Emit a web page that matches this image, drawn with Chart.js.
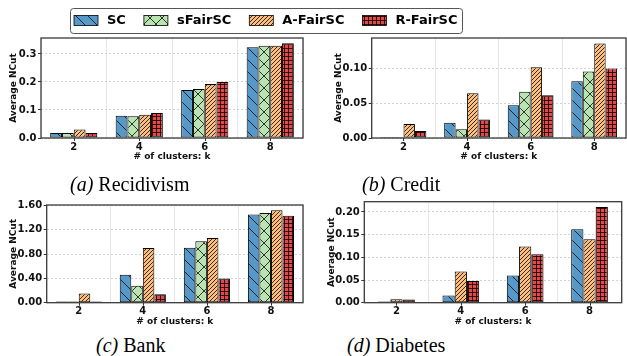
<!DOCTYPE html>
<html>
<head>
<meta charset="utf-8">
<script src="https://cdn.jsdelivr.net/npm/chart.js@4.4.1/dist/chart.umd.min.js"></script>
<style>
  html, body { margin:0; padding:0; background:#fff; }
  #wrap { position:relative; width:627px; height:356px; overflow:hidden; background:#fff; }
  canvas { position:absolute; }
  .cap { position:absolute; font-family:"Liberation Serif","Times New Roman",serif; font-size:20px; line-height:20px; color:#000; white-space:nowrap; }
  .cap i { font-style:italic; }
</style>
</head>
<body>
<div id="wrap">
  <canvas id="cLegend" width="627" height="40" style="left:0px;top:0px;width:627px;height:40px"></canvas>
  <canvas id="cA" width="310" height="140" style="left:0px;top:28px;width:310px;height:140px"></canvas>
  <canvas id="cB" width="307" height="140" style="left:320px;top:28px;width:307px;height:140px"></canvas>
  <canvas id="cC" width="310" height="138" style="left:0px;top:195px;width:310px;height:138px"></canvas>
  <canvas id="cD" width="307" height="141" style="left:320px;top:192px;width:307px;height:141px"></canvas>
  <div class="cap" style="left:70px;top:174px"><i>(a)</i> Recidivism</div>
  <div class="cap" style="left:362px;top:174px"><i>(b)</i> Credit</div>
  <div class="cap" style="left:96px;top:335px"><i>(c)</i> Bank</div>
  <div class="cap" style="left:347px;top:335px"><i>(d)</i> Diabetes</div>
</div>
<script>
// ---------------- DATA ----------------
const categories = ['2', '4', '6', '8'];
const seriesNames = ['SC', 'sFairSC', 'A-FairSC', 'R-FairSC'];

// (a) Recidivism
const recidSC     = [0.018, 0.079, 0.171, 0.324];
const recidSFair  = [0.018, 0.078, 0.175, 0.329];
const recidAFair  = [0.030, 0.083, 0.193, 0.329];
const recidRFair  = [0.018, 0.089, 0.200, 0.338];
const recidTicks  = ['0.0', '0.1', '0.2', '0.3'];

// (b) Credit
const creditSC    = [0.0015, 0.0218, 0.047, 0.081];
const creditSFair = [0.0015, 0.0124, 0.066, 0.095];
const creditAFair = [0.020, 0.064, 0.101, 0.135];
const creditRFair = [0.010, 0.0265, 0.061, 0.0995];
const creditTicks = ['0.00', '0.05', '0.10'];

// (c) Bank
const bankSC      = [0.020, 0.46, 0.905, 1.45];
const bankSFair   = [0.020, 0.28, 1.010, 1.475];
const bankAFair   = [0.150, 0.90, 1.065, 1.52];
const bankRFair   = [0.020, 0.14, 0.400, 1.43];
const bankTicks   = ['0.00', '0.40', '0.80', '1.20', '1.60'];

// (d) Diabetes (no sFairSC)
const diabSC      = [0.0025, 0.016, 0.060, 0.162];
const diabAFair   = [0.0075, 0.069, 0.124, 0.140];
const diabRFair   = [0.007, 0.048, 0.107, 0.211];
const diabTicks   = ['0.00', '0.05', '0.10', '0.15', '0.20'];

// ---------------- STYLE ----------------
const seriesColors = ['#5699c8', '#b9e3b1', '#fdbd7e', '#e24a4a'];
const hatchKinds   = ['back', 'cross', 'fwd3', 'plus3'];
const FONT = 'DejaVu Sans';

function makeTile(color, kind) {
  const S = 12;
  const c = document.createElement('canvas');
  c.width = S; c.height = S;
  const g = c.getContext('2d');
  g.fillStyle = color; g.fillRect(0, 0, S, S);
  g.strokeStyle = 'rgba(0,0,0,0.85)';
  g.lineWidth = 0.9;
  g.beginPath();
  if (kind === 'back' || kind === 'cross') {
    for (let k = -1; k <= 1; k++) { g.moveTo(k * S, 0); g.lineTo(k * S + S, S); }
  }
  if (kind === 'cross') {
    for (let k = -1; k <= 1; k++) { g.moveTo(k * S, S); g.lineTo(k * S + S, 0); }
  }
  if (kind === 'fwd3') {
    const s = S / 3;
    for (let k = -4; k <= 4; k++) { g.moveTo(k * s, S); g.lineTo(k * s + S, 0); }
  }
  if (kind === 'plus3') {
    const s = S / 3;
    for (let k = 0; k < 3; k++) {
      g.moveTo(k * s + 0.5, 0); g.lineTo(k * s + 0.5, S);
      g.moveTo(0, k * s + 0.5); g.lineTo(S, k * s + 0.5);
    }
  }
  g.stroke();
  return c;
}
const tiles = seriesColors.map((c, i) => makeTile(c, hatchKinds[i]));
function patternsFor(canvas) {
  const ctx = canvas.getContext('2d');
  return tiles.map(t => ctx.createPattern(t, 'repeat'));
}

const framePlugin = {
  id: 'frame',
  afterDatasetsDraw(chart) {
    const {ctx, chartArea: a, scales} = chart;
    ctx.save();
    ctx.strokeStyle = '#333'; ctx.lineWidth = 1;
    const xs = scales.x;
    for (let i = 0; i < xs.ticks.length; i++) {
      const px = Math.round(xs.getPixelForTick(i)) + 0.5;
      ctx.beginPath(); ctx.moveTo(px, a.bottom); ctx.lineTo(px, a.bottom + 3); ctx.stroke();
    }
    ctx.strokeStyle = '#3a3a3a'; ctx.lineWidth = 1.3;
    ctx.strokeRect(a.left, a.top, a.right - a.left, a.bottom - a.top);
    ctx.restore();
  }
};

function buildChart(id, seriesIdx, seriesData, yTickLabels, yMax, geo) {
  const canvas = document.getElementById(id);
  const pats = patternsFor(canvas);
  const tickVals = yTickLabels.map(parseFloat);
  const datasets = seriesIdx.map((si, k) => ({
    label: seriesNames[si],
    data: seriesData[k],
    backgroundColor: pats[si],
    borderColor: '#000',
    borderWidth: 1,
    borderSkipped: false,
    categoryPercentage: geo.catPct,
    barPercentage: 1.0
  }));
  return new Chart(canvas, {
    type: 'bar',
    data: { labels: categories, datasets },
    options: {
      responsive: false, animation: false, events: [],
      layout: { padding: { top: geo.padTop, right: geo.padRight, left: 0, bottom: 0 } },
      plugins: { legend: { display: false }, tooltip: { enabled: false } },
      scales: {
        x: {
          offset: true,
          grid: { offset: true, color: '#e6e6e6', lineWidth: 1, drawTicks: false },
          border: { display: false },
          ticks: { padding: 3, color: '#111', font: { family: FONT, size: 10, weight: 'bold' } },
          title: { display: true, text: '# of clusters: k', color: '#111',
                   font: { family: FONT, size: 9, weight: 'bold' }, padding: { top: 0, bottom: 6 } },
          afterFit(s) { s.height = geo.xH; }
        },
        y: {
          min: 0, max: yMax,
          afterBuildTicks(s) { s.ticks = tickVals.map(v => ({ value: v })); },
          grid: { color: '#d2d2d2', lineWidth: 1, drawTicks: true, tickLength: 3,
                  tickColor: '#333', tickWidth: 1, tickBorderDash: [], borderDash: [2, 2] },
          border: { display: false, dash: [2, 2] },
          ticks: { padding: 1.5, color: '#111', font: { family: FONT, size: 10, weight: 'bold' },
                   callback: (v, i) => yTickLabels[i] },
          title: { display: true, text: 'Average NCut', color: '#111',
                   font: { family: FONT, size: 9, weight: 'bold' }, padding: { top: geo.ytPad, bottom: 0 } },
          afterFit(s) { s.width = geo.yW; }
        }
      }
    },
    plugins: [framePlugin]
  });
}

buildChart('cA', [0, 1, 2, 3], [recidSC, recidSFair, recidAFair, recidRFair], recidTicks, 0.357,
  { padTop: 10, padRight: 7, yW: 41, xH: 30, ytPad: 8.6, catPct: 0.72 });
buildChart('cB', [0, 1, 2, 3], [creditSC, creditSFair, creditAFair, creditRFair], creditTicks, 0.143,
  { padTop: 10, padRight: 1, yW: 51.7, xH: 30, ytPad: 12.9, catPct: 0.72 });
buildChart('cC', [0, 1, 2, 3], [bankSC, bankSFair, bankAFair, bankRFair], bankTicks, 1.607,
  { padTop: 10, padRight: 7, yW: 46.7, xH: 30.3, ytPad: 8.3, catPct: 0.72 });
buildChart('cD', [0, 2, 3], [diabSC, diabAFair, diabRFair], diabTicks, 0.2225,
  { padTop: 9.7, padRight: 5.3, yW: 44.3, xH: 30.3, ytPad: 6.3, catPct: 0.57 });

// ---------------- LEGEND (shared, drawn from the datasets of a legend-only chart) ----------------
const legendDraw = {
  id: 'legendDraw',
  afterDraw(chart) {
    const ctx = chart.ctx;
    const cy = 20.5, boxW = 24, boxH = 10, gapText = 9, gapItem = 18;
    ctx.save();
    ctx.font = 'bold 13px "' + FONT + '"';
    ctx.textBaseline = 'middle';
    ctx.textAlign = 'left';
    let x = 74, lastEnd = x;
    chart.data.datasets.forEach(ds => {
      ctx.fillStyle = ds.backgroundColor;
      ctx.fillRect(x, cy - boxH / 2, boxW, boxH);
      ctx.strokeStyle = '#000'; ctx.lineWidth = 0.8;
      ctx.strokeRect(x, cy - boxH / 2, boxW, boxH);
      ctx.fillStyle = '#000';
      const tx = x + boxW + gapText;
      ctx.fillText(ds.label, tx, cy + 0.5);
      lastEnd = tx + ctx.measureText(ds.label).width;
      x = lastEnd + gapItem;
    });
    ctx.strokeStyle = '#555'; ctx.lineWidth = 1;
    ctx.beginPath();
    ctx.roundRect(70.5, 8.5, Math.round(lastEnd + 5 - 70), 25, 3);
    ctx.stroke();
    ctx.restore();
  }
};
(function () {
  const canvas = document.getElementById('cLegend');
  const pats = patternsFor(canvas);
  new Chart(canvas, {
    type: 'bar',
    data: { labels: [], datasets: seriesNames.map((n, i) => ({
      label: n, data: [], backgroundColor: pats[i], borderColor: '#000', borderWidth: 0.8 })) },
    options: {
      responsive: false, animation: false, events: [],
      layout: { padding: 0 },
      scales: { x: { display: false }, y: { display: false } },
      plugins: { tooltip: { enabled: false }, legend: { display: false } }
    },
    plugins: [legendDraw]
  });
})();
</script>
</body>
</html>
